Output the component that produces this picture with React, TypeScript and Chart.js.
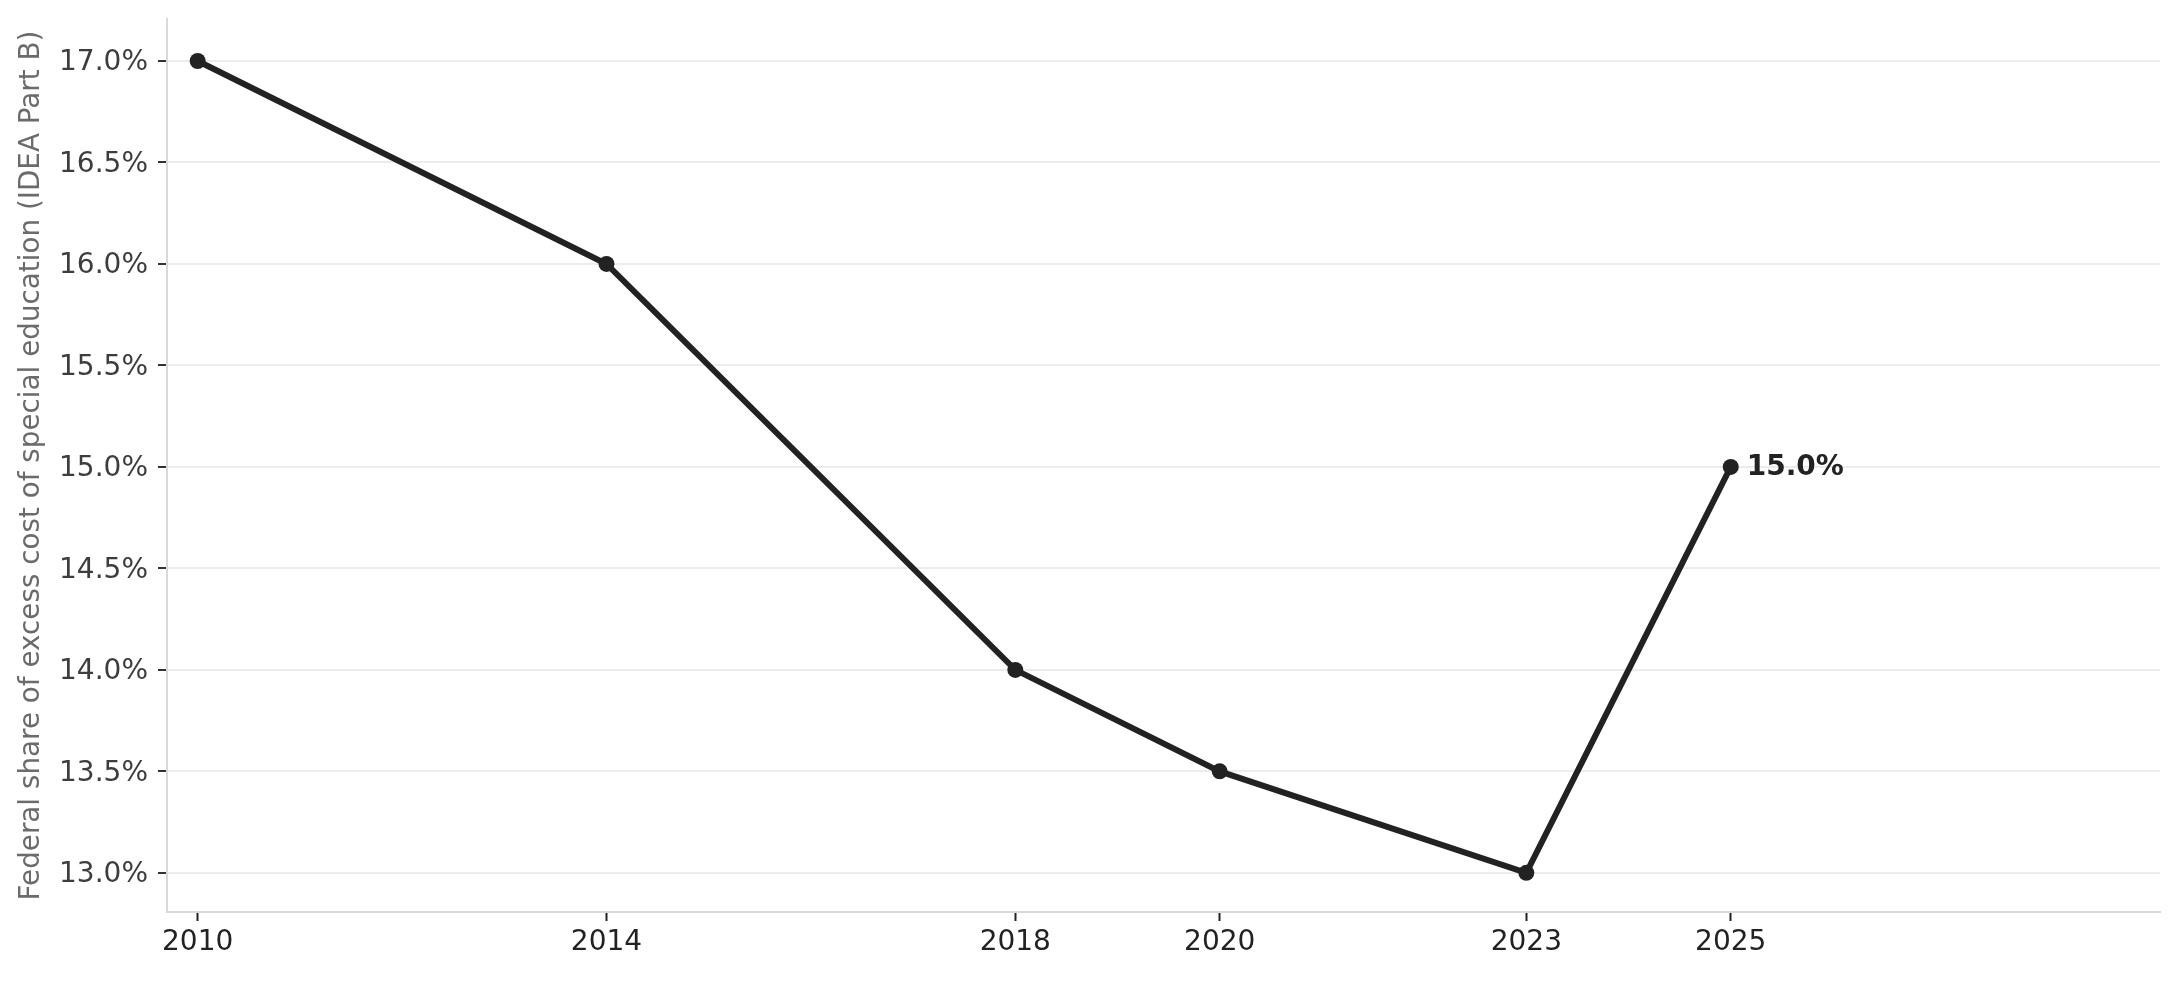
import React, { useEffect, useRef } from "react";
import { Chart, registerables } from "chart.js";

Chart.register(...registerables);

const years = [2010, 2014, 2018, 2020, 2023, 2025];
const federalShare = [17.0, 16.0, 14.0, 13.5, 13.0, 15.0];
const yTickValues = [13.0, 13.5, 14.0, 14.5, 15.0, 15.5, 16.0, 16.5, 17.0];
const yAxisTitle = "Federal share of excess cost of special education (IDEA Part B)";
const endLabel = "15.0%";

const FONT = "'DejaVu Sans', 'Liberation Sans', sans-serif";

const endLabelPlugin = {
  id: "endLabel",
  afterDatasetsDraw(chart: any) {
    const meta = chart.getDatasetMeta(0);
    const pt = meta.data[meta.data.length - 1];
    if (!pt) return;
    const ctx = chart.ctx;
    ctx.save();
    ctx.font = `bold 28px ${FONT}`;
    ctx.fillStyle = "#222222";
    ctx.textAlign = "left";
    ctx.textBaseline = "middle";
    ctx.fillText(endLabel, pt.x + 16, pt.y + 1);
    ctx.restore();
  },
};

export default function App() {
  const ref = useRef<HTMLCanvasElement | null>(null);

  useEffect(() => {
    document.body.style.margin = "0";
    const canvas = ref.current;
    if (!canvas) return;
    const chart = new Chart(canvas, {
      type: "line",
      data: {
        datasets: [
          {
            data: years.map((y, i) => ({ x: y, y: federalShare[i] })),
            borderColor: "#222222",
            backgroundColor: "#222222",
            borderWidth: 6,
            pointRadius: 8,
            pointBorderWidth: 0,
            pointBackgroundColor: "#222222",
            tension: 0,
            clip: false as any,
          },
        ],
      },
      options: {
        animation: false,
        responsive: false,
        devicePixelRatio: 1,
        layout: { padding: { top: 19, right: 21, left: 0, bottom: 0 } },
        plugins: {
          legend: { display: false },
          tooltip: { enabled: false },
        },
        scales: {
          x: {
            type: "linear",
            min: 2009.7,
            max: 2029.2,
            afterBuildTicks: (scale: any) => {
              scale.ticks = years.map((v) => ({ value: v }));
            },
            afterFit: (scale: any) => {
              scale.height = 69;
              scale.paddingLeft = 0;
              scale.paddingRight = 0;
            },
            ticks: {
              autoSkip: false,
              maxRotation: 0,
              color: "#222222",
              font: { family: FONT, size: 28 },
              padding: 5,
              callback: (v: any) => String(v),
            },
            grid: {
              drawOnChartArea: false,
              drawTicks: true,
              tickLength: 9,
              tickColor: "#222222",
              tickWidth: 2,
            },
            border: { display: true, color: "#d9d9d9", width: 2 },
          },
          y: {
            type: "linear",
            min: 12.807,
            max: 17.207,
            afterBuildTicks: (scale: any) => {
              scale.ticks = yTickValues.map((v) => ({ value: v }));
            },
            afterFit: (scale: any) => {
              scale.width = 167;
              scale.paddingTop = 0;
              scale.paddingBottom = 0;
            },
            ticks: {
              autoSkip: false,
              color: "#3d3d3d",
              font: { family: FONT, size: 28 },
              padding: 10,
              labelOffset: 2,
              callback: (v: any) => Number(v).toFixed(1) + "%",
            },
            grid: {
              color: "#ececec",
              lineWidth: 2,
              drawTicks: true,
              tickLength: 9,
              tickColor: "#333333",
              tickWidth: 2,
            },
            border: { display: true, color: "#d9d9d9", width: 2 },
            title: {
              display: true,
              text: yAxisTitle,
              color: "#6b6b6b",
              font: { family: FONT, size: 27.8 },
              padding: { top: 15, bottom: 0 },
            },
          },
        },
      },
      plugins: [endLabelPlugin],
    });
    return () => chart.destroy();
  }, []);

  return (
    <div style={{ position: "absolute", left: 0, top: 0, width: 2181, height: 981, background: "#ffffff" }}>
      <canvas ref={ref} width={2181} height={981} style={{ width: 2181, height: 981, display: "block" }} />
    </div>
  );
}
